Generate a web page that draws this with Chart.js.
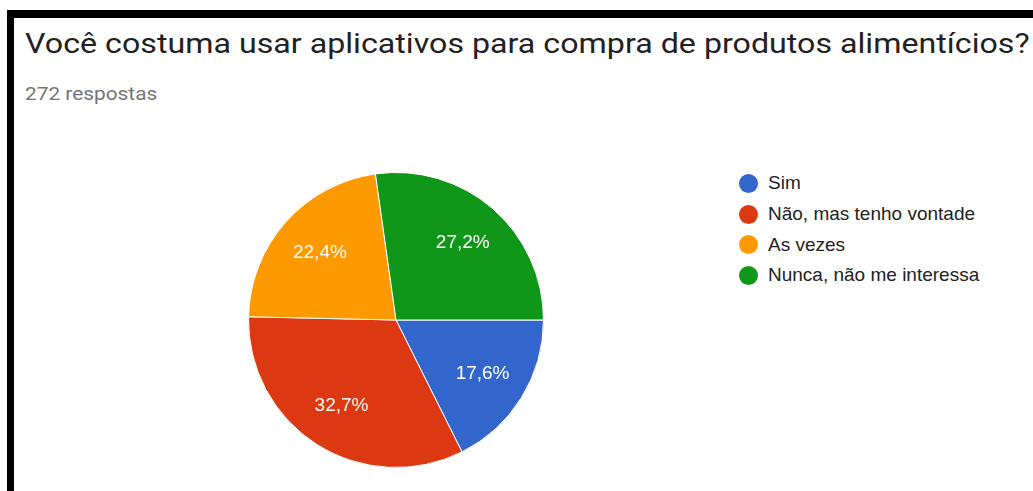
<!DOCTYPE html>
<html>
<head>
<meta charset="utf-8">
<script src="https://cdn.jsdelivr.net/npm/chart.js@4/dist/chart.umd.min.js"></script>
<style>
  body { margin: 0; background: #fff; width: 1033px; height: 491px; overflow: hidden; position: relative; font-family: Roboto, Arial, sans-serif; }
  #frame { position: absolute; left: 7px; top: 10px; width: 1040px; height: 500px; border-left: 7px solid #000; border-top: 8px solid #000; }
  #title { position: absolute; left: 25px; top: 27px; font-size: 28px; color: #212121; white-space: nowrap; transform-origin: 0 0; }
  #sub { position: absolute; left: 25px; top: 83px; font-size: 18px; color: #757575; white-space: nowrap; transform-origin: 0 0; }
  #box { position: absolute; left: 248px; top: 172px; width: 296px; height: 296px; }
  #legend { position: absolute; left: 739px; top: 168px; font-family: "Liberation Sans", Arial, sans-serif; font-size: 19px; color: #222; }
  #legend div { height: 30.7px; display: flex; align-items: center; white-space: nowrap; }
  #legend span.dot { width: 19px; height: 19px; border-radius: 50%; margin-right: 10px; display: inline-block; }
</style>
</head>
<body>
<div id="frame"></div>
<div id="title">Você costuma usar aplicativos para compra de produtos alimentícios?</div>
<div id="sub">272 respostas</div>
<div id="box"><canvas id="myChart"></canvas></div>
<div id="legend"></div>
<script>
const labels = ["Sim", "Não, mas tenho vontade", "As vezes", "Nunca, não me interessa"];
const values = [17.6, 32.7, 22.4, 27.2];
const colors = ["#3366cc", "#dc3912", "#ff9900", "#109618"];

// o print original esta esticado na horizontal
function stretch(id, w) {
  const el = document.getElementById(id);
  el.style.transform = "scaleX(" + (w / el.offsetWidth) + ")";
}
stretch("title", 1005);
stretch("sub", 132);

// legenda em html
const legend = document.getElementById("legend");
for (let i = 0; i < labels.length; i++) {
  const row = document.createElement("div");
  row.innerHTML = '<span class="dot" style="background:' + colors[i] + '"></span>' + labels[i];
  legend.appendChild(row);
}

const pctLabels = {
  id: "pctLabels",
  afterDatasetsDraw(chart) {
    const ctx = chart.ctx;
    const meta = chart.getDatasetMeta(0);
    ctx.save();
    ctx.fillStyle = "#fff";
    ctx.font = "19px 'Liberation Sans', Arial, sans-serif";
    ctx.textAlign = "center";
    ctx.textBaseline = "middle";
    meta.data.forEach(function (arc, i) {
      const mid = (arc.startAngle + arc.endAngle) / 2;
      const r = arc.outerRadius * 0.69;
      const x = arc.x + Math.cos(mid) * r;
      const y = arc.y + Math.sin(mid) * r;
      ctx.fillText(values[i].toFixed(1).replace(".", ",") + "%", x, y);
    });
    ctx.restore();
  }
};

const ctx = document.getElementById("myChart").getContext("2d");
const myChart = new Chart(ctx, {
  type: "pie",
  data: {
    labels: labels,
    datasets: [{
      data: values,
      backgroundColor: colors,
      borderColor: "#fff",
      borderWidth: 1
    }]
  },
  options: {
    responsive: true,
    maintainAspectRatio: false,
    animation: false,
    rotation: 90,
    plugins: {
      legend: { display: false },
      tooltip: { enabled: false }
    }
  },
  plugins: [pctLabels]
});
</script>
</body>
</html>
